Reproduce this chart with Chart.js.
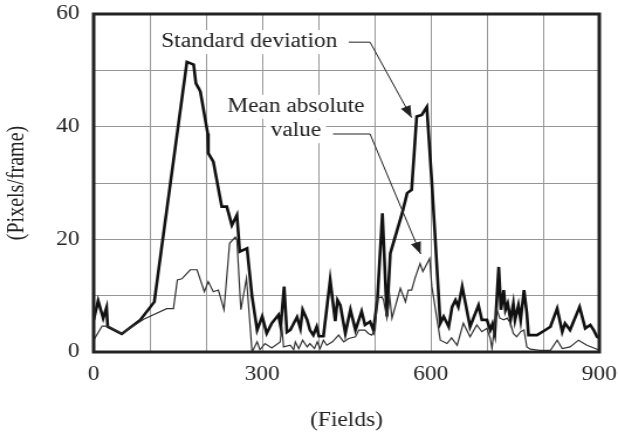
<!DOCTYPE html>
<html>
<head>
<meta charset="utf-8">
<script src="https://cdn.jsdelivr.net/npm/chart.js@4"></script>
<style>
  body { margin: 0; background: #fff; }
</style>
</head>
<body>
<!-- the reference glyphs are wider than they are tall, so the canvas is stretched sideways -->
<canvas id="chart" width="528" height="439" style="display:block;width:618px;height:439px"></canvas>
<script>
// standard deviation (thick line)
const stdFields = [0, 8, 17, 23, 25, 50, 83, 108, 118, 166, 178, 182, 187, 190, 200, 203, 204, 213, 228, 237, 246, 255, 260, 273, 282, 291, 300, 308, 317, 329, 333, 339, 344, 350, 362, 368, 372, 380, 385, 391, 397, 401, 409, 421, 430, 434, 439, 448, 457, 466, 477, 483, 492, 498, 505, 514, 522, 528, 549, 558, 566, 575, 584, 593, 602, 617, 623, 632, 638, 644, 649, 656, 670, 685, 691, 700, 706, 710, 714, 721, 725, 730, 733, 737, 742, 747, 750, 756, 760, 766, 771, 774, 789, 804, 813, 825, 834, 839, 848, 865, 875, 884, 890, 896, 900];
const stdValues = [5.7, 9.1, 6.0, 7.9, 4.5, 3.2, 5.7, 8.9, 16.3, 51.5, 51.0, 47.7, 46.8, 46.2, 40.5, 38.8, 35.3, 33.8, 25.8, 25.8, 22.5, 24.3, 17.8, 18.4, 9.8, 3.9, 6.3, 3.3, 5.1, 6.6, 4.5, 11.6, 3.5, 3.9, 6.2, 4.2, 7.5, 5.7, 3.9, 3.0, 4.5, 2.8, 2.8, 12.8, 5.5, 9.2, 8.3, 3.3, 7.5, 3.9, 7.2, 4.8, 5.4, 3.9, 9.2, 24.6, 6.3, 17.5, 24.6, 28.2, 28.8, 41.8, 42.1, 43.5, 30.0, 5.1, 6.3, 4.5, 8.0, 9.2, 8.0, 11.6, 4.5, 8.3, 5.7, 5.7, 3.9, 5.0, 3.3, 15.1, 7.5, 11.0, 7.5, 8.6, 5.7, 8.6, 5.7, 8.3, 5.7, 11.0, 6.9, 3.0, 3.0, 3.9, 4.5, 7.7, 3.6, 5.1, 3.9, 8.0, 4.2, 4.8, 3.9, 2.7, 2.5];

// mean absolute value (thin line)
const meanFields = [0, 15, 24, 50, 89, 130, 142, 149, 157, 172, 184, 197, 204, 213, 222, 232, 242, 252, 255, 262, 272, 282, 291, 296, 305, 317, 332, 335, 338, 350, 356, 359, 365, 372, 380, 385, 393, 398, 403, 409, 415, 425, 436, 445, 454, 466, 472, 483, 489, 495, 501, 505, 513, 516, 522, 527, 531, 546, 555, 560, 566, 572, 581, 586, 598, 602, 617, 629, 637, 647, 658, 670, 682, 691, 700, 706, 709, 715, 718, 723, 730, 736, 742, 747, 753, 760, 766, 771, 777, 794, 813, 825, 834, 848, 863, 878, 896, 900];
const meanValues = [2.1, 4.6, 4.6, 3.3, 5.8, 7.7, 7.7, 12.8, 13.0, 14.6, 14.6, 10.7, 12.5, 10.7, 11.0, 7.5, 19.3, 20.4, 19.9, 7.5, 13.1, 0.0, 1.8, 0.4, 1.5, 0.7, 1.8, 4.5, 0.9, 1.2, 0.4, 1.8, 0.6, 2.1, 0.9, 1.5, 0.6, 1.8, 0.6, 2.1, 1.2, 1.8, 3.0, 1.8, 2.4, 2.7, 3.9, 3.9, 3.3, 3.0, 3.9, 9.5, 9.8, 9.2, 6.0, 9.8, 6.0, 11.3, 8.9, 11.0, 11.0, 13.1, 15.7, 14.3, 16.6, 11.6, 2.1, 1.5, 2.5, 1.2, 5.1, 2.7, 4.8, 3.6, 4.2, 2.4, 0.6, 5.7, 7.5, 6.0, 5.7, 6.0, 5.1, 3.3, 2.7, 3.6, 3.9, 0.9, 0.5, 0.3, 0.3, 2.1, 0.6, 0.9, 2.1, 1.2, 0.5, 0.3];

const xTickLabels = [0, 300, 600, 900];
const yTickLabels = [0, 20, 40, 60];

const FONT = "'Liberation Serif', 'Times New Roman', serif";
const INK = '#222';
const GRID = 'rgb(150,150,150)';

const toPoints = (xs, ys) => xs.map((x, i) => ({ x: x, y: ys[i] }));

// callouts, in data units
const notes = [
    { lines: ['Standard deviation'], x: 277, y: [55], leader: [[454, 55], [492, 55], [566, 41.6]] },
    { lines: ['Mean absolute', 'value'], x: 360, y: [43.5, 39.2], leader: [[426, 38.7], [492, 38.7], [582, 17.4]] },
];

const notesPlugin = {
    id: 'notes',
    afterDatasetsDraw(chart) {
        const ctx = chart.ctx;
        const xs = chart.scales.x, ys = chart.scales.y;
        ctx.save();
        ctx.font = '20px ' + FONT;
        ctx.textAlign = 'center';
        ctx.textBaseline = 'middle';
        notes.forEach((n) => {
            const cx = xs.getPixelForValue(n.x);
            n.lines.forEach((t, i) => {
                const cy = ys.getPixelForValue(n.y[i]);
                const w = ctx.measureText(t).width;
                ctx.fillStyle = '#fff';
                ctx.fillRect(cx - w / 2 - 4, cy - 12, w + 8, 24);
                ctx.fillStyle = INK;
                ctx.fillText(t, cx, cy);
            });
            const pts = n.leader.map((p) => [xs.getPixelForValue(p[0]), ys.getPixelForValue(p[1])]);
            ctx.strokeStyle = INK;
            ctx.lineWidth = 1;
            ctx.beginPath();
            ctx.moveTo(pts[0][0], pts[0][1]);
            for (let i = 1; i < pts.length; i++) ctx.lineTo(pts[i][0], pts[i][1]);
            ctx.stroke();
            // arrow head
            const a = pts[pts.length - 2], b = pts[pts.length - 1];
            const ang = Math.atan2(b[1] - a[1], b[0] - a[0]);
            const len = 12, half = 4.5;
            ctx.fillStyle = INK;
            ctx.beginPath();
            ctx.moveTo(b[0], b[1]);
            ctx.lineTo(b[0] - len * Math.cos(ang) + half * Math.sin(ang), b[1] - len * Math.sin(ang) - half * Math.cos(ang));
            ctx.lineTo(b[0] - len * Math.cos(ang) - half * Math.sin(ang), b[1] - len * Math.sin(ang) + half * Math.cos(ang));
            ctx.closePath();
            ctx.fill();
        });
        ctx.restore();
    },
    afterDraw(chart) {
        const a = chart.chartArea;
        const ctx = chart.ctx;
        ctx.save();
        ctx.strokeStyle = INK;
        ctx.lineWidth = 3;
        ctx.strokeRect(a.left, a.top, a.right - a.left, a.bottom - a.top);
        ctx.restore();
    }
};

new Chart(document.getElementById('chart'), {
    type: 'line',
    data: {
        datasets: [
            {
                label: 'Mean absolute value',
                data: toPoints(meanFields, meanValues),
                borderColor: '#333',
                borderWidth: 1.2,
                pointRadius: 0,
                tension: 0,
            },
            {
                label: 'Standard deviation',
                data: toPoints(stdFields, stdValues),
                borderColor: '#111',
                borderWidth: 2.6,
                pointRadius: 0,
                tension: 0,
            },
        ]
    },
    options: {
        responsive: false,
        devicePixelRatio: 1,
        animation: false,
        layout: { padding: { top: 14, right: 16, left: 0, bottom: 0 } },
        plugins: {
            legend: { display: false },
            tooltip: { enabled: false },
        },
        scales: {
            x: {
                type: 'linear',
                min: 0,
                max: 900,
                grid: { color: GRID, lineWidth: 1, drawTicks: false },
                border: { display: false },
                ticks: {
                    stepSize: 100,
                    padding: 11,
                    maxRotation: 0,
                    autoSkip: false,
                    color: INK,
                    font: { family: FONT, size: 20 },
                    callback: (v) => xTickLabels.includes(v) ? v : '',
                },
                title: { display: true, text: '(Fields)', color: INK, font: { family: FONT, size: 20 }, padding: { bottom: 6 } },
                afterFit: (scale) => {
                    scale.height = 87;
                    scale.paddingLeft = 0;
                    scale.paddingRight = 0;
                },
            },
            y: {
                min: 0,
                max: 60,
                grid: { color: GRID, lineWidth: 1, drawTicks: false },
                border: { display: false },
                ticks: {
                    stepSize: 10,
                    padding: 12,
                    autoSkip: false,
                    color: INK,
                    font: { family: FONT, size: 20 },
                    callback: (v) => yTickLabels.includes(v) ? v : '',
                },
                title: { display: true, text: '(Pixels/frame)', color: INK, font: { family: FONT, size: 20 }, padding: { top: 3 } },
                afterFit: (scale) => {
                    scale.width = 80;
                    scale.paddingTop = 0;
                    scale.paddingBottom = 0;
                },
            },
        },
    },
    plugins: [notesPlugin],
});
</script>
</body>
</html>
